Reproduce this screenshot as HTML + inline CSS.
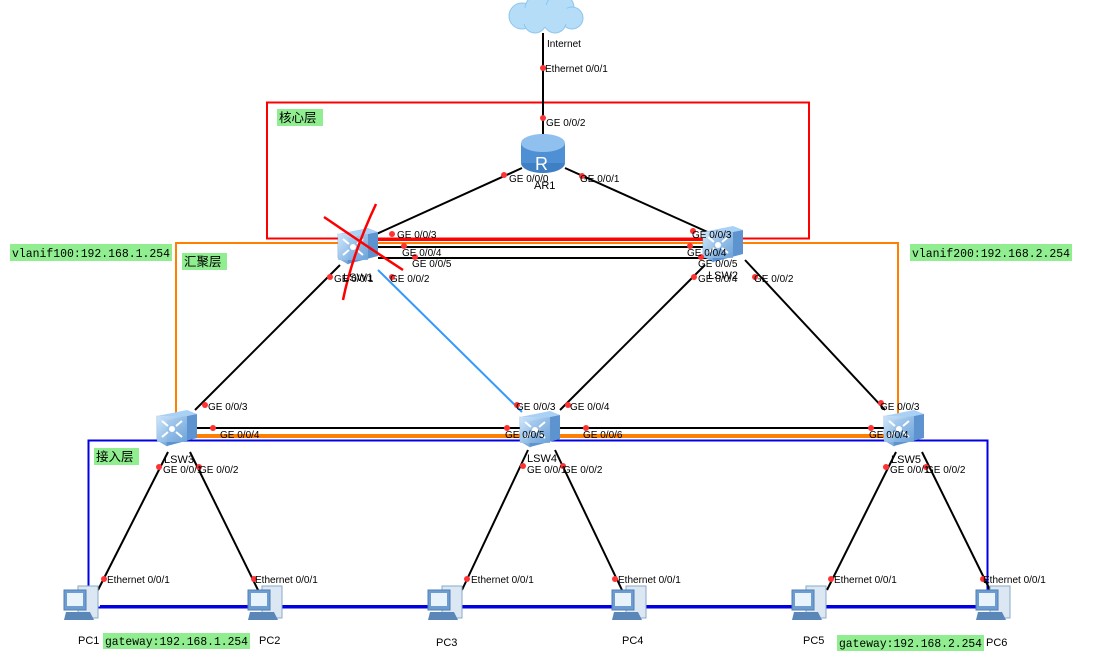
<!DOCTYPE html>
<html><head><meta charset="utf-8"><style>
body{margin:0;background:#fff;}
svg{display:block;font-family:"Liberation Sans","Noto Sans CJK SC",sans-serif;}
.t{font-size:10px;fill:#000;}
.n{font-size:11px;fill:#000;}
.m{font-family:"Liberation Mono",monospace;font-size:12px;}
</style></head><body>
<svg width="1109" height="660" viewBox="0 0 1109 660" xmlns="http://www.w3.org/2000/svg">
<defs>
<linearGradient id="sg" x1="0" y1="0" x2="1" y2="1"><stop offset="0" stop-color="#cfe6fb"/><stop offset="1" stop-color="#6fa6dc"/></linearGradient>
<g id="sw">
 <polygon points="0,6 30,0 40,4 10,10" fill="#a9d0f5"/>
 <polygon points="0,6 10,10 10,36 0,30" fill="url(#sg)" stroke="#6a9bd0" stroke-width="0.6"/>
 <polygon points="10,10 40,4 40,28 10,36" fill="#5d93cf"/>
 <rect x="0" y="6" width="30" height="26" fill="url(#sg)" opacity="0.85"/>
 <circle cx="15" cy="19" r="3" fill="#fff"/>
 <path d="M5 11l6 5M25 11l-6 5M5 27l6-5M25 27l-6-5" stroke="#fff" stroke-width="2"/>
</g>
<g id="pc">
 <rect x="14" y="0" width="20" height="32" fill="#dbe8f3" stroke="#8aa9c6"/>
 <rect x="0" y="4" width="22" height="20" fill="#6d9dd0" stroke="#4f7fb5"/>
 <rect x="3" y="7" width="16" height="13" fill="#e8f3fc"/>
 <polygon points="2,26 26,26 30,34 0,34" fill="#5a86b8"/>
</g>
</defs>

<!-- cloud -->
<g fill="#b5ddf7" stroke="#8cc6ef">
<circle cx="522" cy="16" r="13"/><circle cx="540" cy="9" r="15"/><circle cx="560" cy="8" r="14"/><circle cx="572" cy="18" r="11"/><circle cx="535" cy="22" r="11"/><circle cx="555" cy="22" r="11"/>
</g>
<g fill="#b5ddf7">
<ellipse cx="545" cy="16" rx="30" ry="11"/>
</g>

<!-- boxes -->
<rect x="267" y="102.5" width="542" height="136" fill="none" stroke="#f00" stroke-width="2"/>
<rect x="176" y="243" width="722" height="194" fill="none" stroke="#ff8000" stroke-width="2"/>
<rect x="88.5" y="440.5" width="899" height="167" fill="none" stroke="#0000e0" stroke-width="2"/>

<!-- links -->
<g stroke="#000" stroke-width="2" fill="none">
<line x1="543" y1="33" x2="543" y2="135"/>
<line x1="522" y1="168" x2="372" y2="236"/>
<line x1="565" y1="168" x2="712" y2="234"/>
<line x1="378" y1="247" x2="712" y2="247"/>
<line x1="378" y1="258" x2="712" y2="258"/>
<line x1="340" y1="265" x2="195" y2="410"/>
<line x1="705" y1="265" x2="560" y2="410"/>
<line x1="745" y1="260" x2="885" y2="410"/>
<line x1="195" y1="428" x2="885" y2="428"/>
<line x1="168" y1="452" x2="98" y2="590"/>
<line x1="190" y1="452" x2="258" y2="590"/>
<line x1="528" y1="450" x2="462" y2="590"/>
<line x1="555" y1="450" x2="622" y2="590"/>
<line x1="896" y1="452" x2="827" y2="590"/>
<line x1="922" y1="452" x2="990" y2="590"/>
</g>
<line x1="378" y1="243" x2="712" y2="243" stroke="#ff8000" stroke-width="2"/>
<line x1="378" y1="240" x2="712" y2="240" stroke="#f00" stroke-width="2"/>
<line x1="195" y1="435" x2="885" y2="435" stroke="#ff8000" stroke-width="2"/>
<line x1="378" y1="270" x2="522" y2="412" stroke="#3399ff" stroke-width="2"/>
<line x1="100" y1="606" x2="1000" y2="606" stroke="#0000e0" stroke-width="2"/>

<!-- router -->
<ellipse cx="543" cy="163" rx="22" ry="10" fill="#3f7fc4"/>
<rect x="521" y="143" width="44" height="20" fill="#4f8fd4"/>
<ellipse cx="543" cy="143" rx="22" ry="9" fill="#8fc0ee"/>
<text x="535" y="170" font-size="18" fill="#fff">R</text>

<!-- switches -->
<use href="#sw" x="338" y="228"/>
<use href="#sw" x="703" y="226"/>
<use href="#sw" x="157" y="410"/>
<use href="#sw" x="520" y="411"/>
<use href="#sw" x="884" y="410"/>

<!-- pcs -->
<use href="#pc" x="64" y="586"/>
<use href="#pc" x="248" y="586"/>
<use href="#pc" x="428" y="586"/>
<use href="#pc" x="612" y="586"/>
<use href="#pc" x="792" y="586"/>
<use href="#pc" x="976" y="586"/>

<!-- red X -->
<g stroke="#f00" stroke-width="2.5" fill="none">
<path d="M324 217 Q365 245 403 270"/>
<path d="M376 204 Q352 255 343 300"/>
</g>

<!-- dots -->
<g fill="#f33">
<circle cx="543" cy="68" r="3"/><circle cx="543" cy="118" r="3"/>
<circle cx="504" cy="175" r="3"/><circle cx="582" cy="176" r="3"/>
<circle cx="392" cy="234" r="3"/><circle cx="404" cy="246" r="3"/><circle cx="415" cy="257" r="3"/>
<circle cx="693" cy="231" r="3"/><circle cx="690" cy="246" r="3"/><circle cx="701" cy="257" r="3"/>
<circle cx="330" cy="277" r="3"/><circle cx="392" cy="277" r="3"/>
<circle cx="694" cy="277" r="3"/><circle cx="755" cy="277" r="3"/>
<circle cx="205" cy="405" r="3"/><circle cx="213" cy="428" r="3"/>
<circle cx="517" cy="405" r="3"/><circle cx="568" cy="405" r="3"/><circle cx="507" cy="428" r="3"/><circle cx="586" cy="428" r="3"/>
<circle cx="881" cy="403" r="3"/><circle cx="871" cy="428" r="3"/>
<circle cx="159" cy="467" r="3"/><circle cx="199" cy="467" r="3"/>
<circle cx="523" cy="466" r="3"/><circle cx="563" cy="466" r="3"/>
<circle cx="886" cy="467" r="3"/><circle cx="926" cy="467" r="3"/>
<circle cx="104" cy="579" r="3"/><circle cx="254" cy="579" r="3"/>
<circle cx="467" cy="579" r="3"/><circle cx="615" cy="579" r="3"/>
<circle cx="831" cy="579" r="3"/><circle cx="983" cy="579" r="3"/>
</g>

<!-- labels -->
<g class="t">
<text x="547" y="47">Internet</text>
<text x="545" y="72">Ethernet 0/0/1</text>
<text x="546" y="126">GE 0/0/2</text>
<text x="509" y="182">GE 0/0/0</text>
<text x="580" y="182">GE 0/0/1</text>
<text x="397" y="238">GE 0/0/3</text>
<text x="402" y="256">GE 0/0/4</text>
<text x="412" y="267">GE 0/0/5</text>
<text x="692" y="238">GE 0/0/3</text>
<text x="687" y="256">GE 0/0/4</text>
<text x="698" y="267">GE 0/0/5</text>
<text x="334" y="282">GE 0/0/1</text>
<text x="390" y="282">GE 0/0/2</text>
<text x="698" y="282">GE 0/0/4</text>
<text x="754" y="282">GE 0/0/2</text>
<text x="208" y="410">GE 0/0/3</text>
<text x="220" y="438">GE 0/0/4</text>
<text x="516" y="410">GE 0/0/3</text>
<text x="570" y="410">GE 0/0/4</text>
<text x="505" y="438">GE 0/0/5</text>
<text x="583" y="438">GE 0/0/6</text>
<text x="880" y="410">GE 0/0/3</text>
<text x="869" y="438">GE 0/0/4</text>
<text x="163" y="473">GE 0/0/1</text><text x="199" y="473">GE 0/0/2</text>
<text x="527" y="473">GE 0/0/1</text><text x="563" y="473">GE 0/0/2</text>
<text x="890" y="473">GE 0/0/1</text><text x="926" y="473">GE 0/0/2</text>
<text x="107" y="583">Ethernet 0/0/1</text><text x="255" y="583">Ethernet 0/0/1</text>
<text x="471" y="583">Ethernet 0/0/1</text><text x="618" y="583">Ethernet 0/0/1</text>
<text x="834" y="583">Ethernet 0/0/1</text><text x="983" y="583">Ethernet 0/0/1</text>
</g>
<g class="n">
<text x="534" y="189">AR1</text>
<text x="343" y="281">LSW1</text>
<text x="708" y="279">LSW2</text>
<text x="164" y="463">LSW3</text>
<text x="527" y="462">LSW4</text>
<text x="891" y="463">LSW5</text>
<text x="78" y="644">PC1</text><text x="259" y="644">PC2</text>
<text x="436" y="646">PC3</text><text x="622" y="644">PC4</text>
<text x="803" y="644">PC5</text><text x="986" y="646">PC6</text>
</g>

<!-- green labels -->
<g fill="#90ee90">
<rect x="277" y="109" width="46" height="17"/>
<rect x="182" y="253" width="45" height="17"/>
<rect x="94" y="448" width="45" height="17"/>
<rect x="10" y="244" width="162" height="17"/>
<rect x="910" y="244" width="162" height="17"/>
<rect x="103" y="633" width="147" height="16"/>
<rect x="837" y="635" width="147" height="16"/>
</g>
<g font-size="12.5" fill="#000">
<text x="279" y="122">核心层</text>
<text x="184" y="266">汇聚层</text>
<text x="96" y="461">接入层</text>
</g>
<g class="m">
<text x="12" y="257" textLength="158" lengthAdjust="spacingAndGlyphs">vlanif100:192.168.1.254</text>
<text x="912" y="257" textLength="158" lengthAdjust="spacingAndGlyphs">vlanif200:192.168.2.254</text>
<text x="105" y="645" textLength="143" lengthAdjust="spacingAndGlyphs">gateway:192.168.1.254</text>
<text x="839" y="647" textLength="143" lengthAdjust="spacingAndGlyphs">gateway:192.168.2.254</text>
</g>
</svg>
</body></html>
